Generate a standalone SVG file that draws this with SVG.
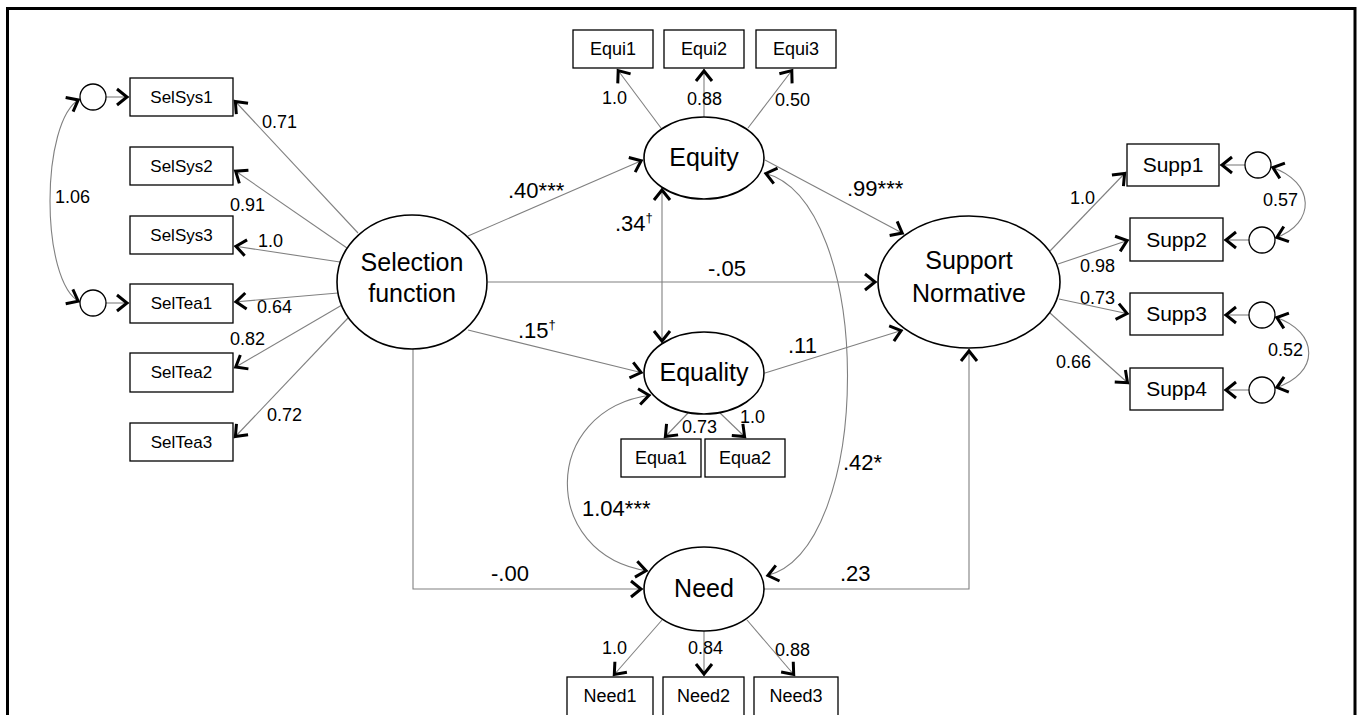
<svg xmlns="http://www.w3.org/2000/svg" width="1360" height="715" viewBox="0 0 1360 715">
<defs>
<marker id="ah" viewBox="-16 -12 18 24" markerWidth="18" markerHeight="24" refX="0" refY="0" orient="auto-start-reverse" markerUnits="userSpaceOnUse">
<path d="M-12,-8 L-2,0 L-12,8" fill="none" stroke="#000" stroke-width="3"/>
</marker>
</defs>
<style>
.ln{fill:none;stroke:#808080;stroke-width:1.1}
.ar{marker-end:url(#ah)}
.bi{marker-start:url(#ah);marker-end:url(#ah)}
.lat{fill:#fff;stroke:#000;stroke-width:1.6}
.box{fill:#fff;stroke:#000;stroke-width:1.3}
.err{fill:#fff;stroke:#000;stroke-width:1.3}
text{font-family:"Liberation Sans",Arial,sans-serif;fill:#000}
.big{font-size:25px;text-anchor:middle}
.bl{font-size:17px;text-anchor:middle}
.bm{font-size:18px;text-anchor:middle}
.bs{font-size:21px;text-anchor:middle}
.pl{font-size:22px}
.ll{font-size:18px}
</style>
<rect width="1360" height="715" fill="#fff"/>
<path d="M7.5,720 V8.5 H1355 V720" fill="none" stroke="#000" stroke-width="3"/>

<g id="connectors">
<!-- Selection function loadings -->
<path class="ln ar" d="M358,233 L234,100"/>
<path class="ln ar" d="M347,248 L234,170"/>
<path class="ln ar" d="M340,262 L234,246"/>
<path class="ln ar" d="M338,293 L234,302"/>
<path class="ln ar" d="M342,305 L234,368"/>
<path class="ln ar" d="M348,318 L234,438"/>
<!-- left errors -->
<path class="ln ar" d="M106,97 L129,97"/>
<path class="ln ar" d="M106,303 L129,303"/>
<path class="ln bi" d="M80,99 C40,120 40,282 80,302"/>
<!-- Equity loadings -->
<path class="ln ar" d="M661,128 L617,69"/>
<path class="ln ar" d="M704,117 V69"/>
<path class="ln ar" d="M748,128 L793,69"/>
<!-- Equality loadings -->
<path class="ln ar" d="M688,413 L664,438"/>
<path class="ln ar" d="M720,413 L746,438"/>
<!-- Need loadings -->
<path class="ln ar" d="M662,620 L613,676"/>
<path class="ln ar" d="M704,631 V676"/>
<path class="ln ar" d="M747,620 L795,676"/>
<!-- Support loadings -->
<path class="ln ar" d="M1050,251 L1126,172"/>
<path class="ln ar" d="M1058,264 L1129,240"/>
<path class="ln ar" d="M1059,299 L1129,314"/>
<path class="ln ar" d="M1050,313 L1129,384"/>
<!-- right errors -->
<path class="ln ar" d="M1245,165 L1220,165"/>
<path class="ln ar" d="M1249,240 L1224,240"/>
<path class="ln ar" d="M1249,315 L1224,315"/>
<path class="ln ar" d="M1249,390 L1224,390"/>
<path class="ln bi" d="M1271,167 C1316,182 1316,224 1275,238"/>
<path class="ln bi" d="M1275,317 C1320,332 1320,374 1275,388"/>
<!-- structural paths -->
<path class="ln ar" d="M468,236 L643,160"/>
<path class="ln ar" d="M468,330 L643,373"/>
<path class="ln ar" d="M488,282 L877,282"/>
<path class="ln ar" d="M765,160 L904,234"/>
<path class="ln ar" d="M765,373 L903,330"/>
<path class="ln ar" d="M413,349 V589 H643"/>
<path class="ln ar" d="M764,589 H969 V349"/>
<path class="ln bi" d="M662,188 V343"/>
<path class="ln bi" d="M651,395 C540,410 540,555 648,571"/>
<path class="ln bi" d="M764,173 C875,200 875,550 766,576"/>
<!-- labels -->
<text class="ll" x="262" y="128">0.71</text>
<text class="ll" x="230" y="211">0.91</text>
<text class="ll" x="258" y="247">1.0</text>
<text class="ll" x="257" y="313">0.64</text>
<text class="ll" x="230" y="345">0.82</text>
<text class="ll" x="267" y="421">0.72</text>
<text class="ll" x="55" y="203">1.06</text>
<text class="ll" x="602" y="104">1.0</text>
<text class="ll" x="687" y="105">0.88</text>
<text class="ll" x="775" y="106">0.50</text>
<text class="ll" x="682" y="433">0.73</text>
<text class="ll" x="740" y="423">1.0</text>
<text class="ll" x="602" y="654">1.0</text>
<text class="ll" x="688" y="654">0.84</text>
<text class="ll" x="775" y="656">0.88</text>
<text class="ll" x="1070" y="204">1.0</text>
<text class="ll" x="1080" y="272">0.98</text>
<text class="ll" x="1080" y="304">0.73</text>
<text class="ll" x="1056" y="368">0.66</text>
<text class="ll" x="1263" y="206">0.57</text>
<text class="ll" x="1268" y="356">0.52</text>
<text class="pl" x="508" y="198">.40***</text>
<text class="pl" x="847" y="196">.99***</text>
<text class="pl" x="615" y="231">.34<tspan font-size="13" dy="-9">†</tspan></text>
<text class="pl" x="708" y="276">-.05</text>
<text class="pl" x="518" y="338">.15<tspan font-size="13" dy="-9">†</tspan></text>
<text class="pl" x="788" y="353">.11</text>
<text class="pl" x="582" y="516">1.04***</text>
<text class="pl" x="843" y="470">.42*</text>
<text class="pl" x="491" y="581">-.00</text>
<text class="pl" x="840" y="581">.23</text>
</g>

<g id="sel"><ellipse class="lat" cx="412" cy="282" rx="75" ry="67"/><text class="big" x="412" y="271">Selection</text><text class="big" x="412" y="302">function</text></g>
<g id="equity"><ellipse class="lat" cx="704" cy="158" rx="60" ry="41"/><text class="big" x="704" y="166">Equity</text></g>
<g id="equality"><ellipse class="lat" cx="704" cy="373" rx="60" ry="41"/><text class="big" x="704" y="381">Equality</text></g>
<g id="need"><ellipse class="lat" cx="704" cy="589" rx="60" ry="42"/><text class="big" x="704" y="597">Need</text></g>
<g id="support"><ellipse class="lat" cx="969" cy="282" rx="91" ry="66"/><text class="big" x="969" y="269">Support</text><text class="big" x="969" y="302">Normative</text></g>

<g id="selsys1"><rect class="box" x="130" y="78" width="103" height="38"/><text class="bl" x="181.5" y="103">SelSys1</text></g>
<g id="selsys2"><rect class="box" x="130" y="147" width="103" height="38"/><text class="bl" x="181.5" y="172">SelSys2</text></g>
<g id="selsys3"><rect class="box" x="130" y="216" width="103" height="38"/><text class="bl" x="181.5" y="241">SelSys3</text></g>
<g id="seltea1"><rect class="box" x="130" y="284" width="103" height="39"/><text class="bl" x="181.5" y="309">SelTea1</text></g>
<g id="seltea2"><rect class="box" x="130" y="353" width="103" height="39"/><text class="bl" x="181.5" y="378">SelTea2</text></g>
<g id="seltea3"><rect class="box" x="130" y="423" width="103" height="38"/><text class="bl" x="181.5" y="448">SelTea3</text></g>
<g id="e_selsys1"><circle class="err" cx="93" cy="97" r="13"/></g>
<g id="e_seltea1"><circle class="err" cx="93" cy="303" r="13"/></g>

<g id="equi1"><rect class="box" x="573" y="30" width="80" height="38"/><text class="bm" x="613" y="55">Equi1</text></g>
<g id="equi2"><rect class="box" x="664" y="30" width="80" height="38"/><text class="bm" x="704" y="55">Equi2</text></g>
<g id="equi3"><rect class="box" x="756" y="30" width="80" height="38"/><text class="bm" x="796" y="55">Equi3</text></g>

<g id="equa1"><rect class="box" x="621" y="439" width="80" height="38"/><text class="bm" x="661" y="464">Equa1</text></g>
<g id="equa2"><rect class="box" x="705" y="439" width="80" height="38"/><text class="bm" x="745" y="464">Equa2</text></g>

<g id="need1"><rect class="box" x="567" y="677" width="86" height="42"/><text class="bm" x="610" y="702">Need1</text></g>
<g id="need2"><rect class="box" x="663" y="677" width="81" height="42"/><text class="bm" x="703.5" y="702">Need2</text></g>
<g id="need3"><rect class="box" x="754" y="677" width="84" height="42"/><text class="bm" x="796" y="702">Need3</text></g>

<g id="supp1"><rect class="box" x="1127" y="144" width="92" height="42"/><text class="bs" x="1173" y="172">Supp1</text></g>
<g id="supp2"><rect class="box" x="1130" y="218" width="93" height="43"/><text class="bs" x="1176.5" y="247">Supp2</text></g>
<g id="supp3"><rect class="box" x="1130" y="293" width="93" height="42"/><text class="bs" x="1176.5" y="321">Supp3</text></g>
<g id="supp4"><rect class="box" x="1130" y="368" width="93" height="42"/><text class="bs" x="1176.5" y="396">Supp4</text></g>
<g id="e_supp1"><circle class="err" cx="1258" cy="165" r="13"/></g>
<g id="e_supp2"><circle class="err" cx="1262" cy="240" r="13"/></g>
<g id="e_supp3"><circle class="err" cx="1262" cy="315" r="13"/></g>
<g id="e_supp4"><circle class="err" cx="1262" cy="390" r="13"/></g>
</svg>
